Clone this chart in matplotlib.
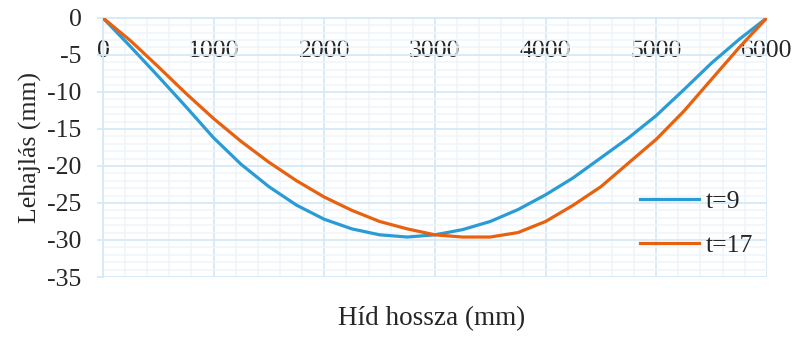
import matplotlib.pyplot as plt
from matplotlib.ticker import MultipleLocator

# bridge length positions (mm) and deflections (mm)
hossz = [0, 250, 500, 750, 1000, 1250, 1500, 1750, 2000, 2250, 2500, 2750, 3000,
         3250, 3500, 3750, 4000, 4250, 4500, 4750, 5000, 5250, 5500, 5750, 6000]
t9 = [0, -3.9, -7.9, -12.0, -16.2, -19.8, -22.8, -25.3, -27.2, -28.5, -29.3, -29.6, -29.3,
      -28.6, -27.5, -25.9, -23.9, -21.6, -18.9, -16.2, -13.2, -9.7, -6.1, -2.9, 0]
t17 = [0, -3.1, -6.6, -10.2, -13.6, -16.7, -19.5, -22.0, -24.2, -26.0, -27.5, -28.5, -29.3,
       -29.6, -29.6, -29.0, -27.5, -25.3, -22.8, -19.6, -16.4, -12.6, -8.3, -4.0, 0]
labels = ["t=9", "t=17"]

plt.rcParams['font.family'] = ['Liberation Serif', 'DejaVu Serif']
plt.rcParams['axes.unicode_minus'] = False
fs = 18.5
text_col = '#262626'
major_col = '#d6e9f6'
minor_col = '#edf5fb'

fig = plt.figure(figsize=(7.98, 3.37), dpi=100)
ax = fig.add_axes([0.129, 0.178, 0.832, 0.769])

ax.plot(hossz, t9, color='#2a9bd5', lw=2.3, label=labels[0], zorder=3,
        solid_joinstyle='round')
ax.plot(hossz, t17, color='#e8610f', lw=2.3, label=labels[1], zorder=3,
        solid_joinstyle='round')

ax.set_xlim(0, 6000)
ax.set_ylim(-35, 0)
ax.xaxis.set_major_locator(MultipleLocator(1000))
ax.xaxis.set_minor_locator(MultipleLocator(200))
ax.yaxis.set_major_locator(MultipleLocator(5))
ax.yaxis.set_minor_locator(MultipleLocator(1))

ax.grid(which='major', color=major_col, lw=1.3, zorder=1)
ax.grid(which='minor', color=minor_col, lw=1.1, zorder=0)
ax.set_axisbelow(True)

# category axis crosses at y = 0, like the spreadsheet chart
ax.spines['bottom'].set_position(('data', 0))
ax.spines['bottom'].set_color(major_col)
ax.spines['bottom'].set_linewidth(1.3)
ax.spines['left'].set_color(major_col)
ax.spines['left'].set_linewidth(1.3)
ax.spines['top'].set_visible(False)
ax.spines['right'].set_visible(False)

ax.tick_params(axis='x', which='both', length=0, pad=16, labelsize=fs, labelcolor=text_col)
ax.tick_params(axis='y', which='major', length=4.5, width=1.3, color=major_col,
               pad=11, labelsize=fs, labelcolor=text_col)
ax.tick_params(axis='y', which='minor', length=0)

fig.text(0.541, 0.056, "Híd hossza (mm)", ha='center', va='center', fontsize=19.5, color=text_col)
fig.text(0.038, 0.562, "Lehajlás (mm)", ha='center', va='center', rotation=90,
         fontsize=fs, color=text_col)

ax.legend(loc='center left', bbox_to_anchor=(0.79, 0.205), frameon=False,
          fontsize=fs, handlelength=2.3, handletextpad=0.25, labelspacing=0.82,
          borderpad=0, labelcolor=text_col)

fig.savefig("out.png", dpi=100)
